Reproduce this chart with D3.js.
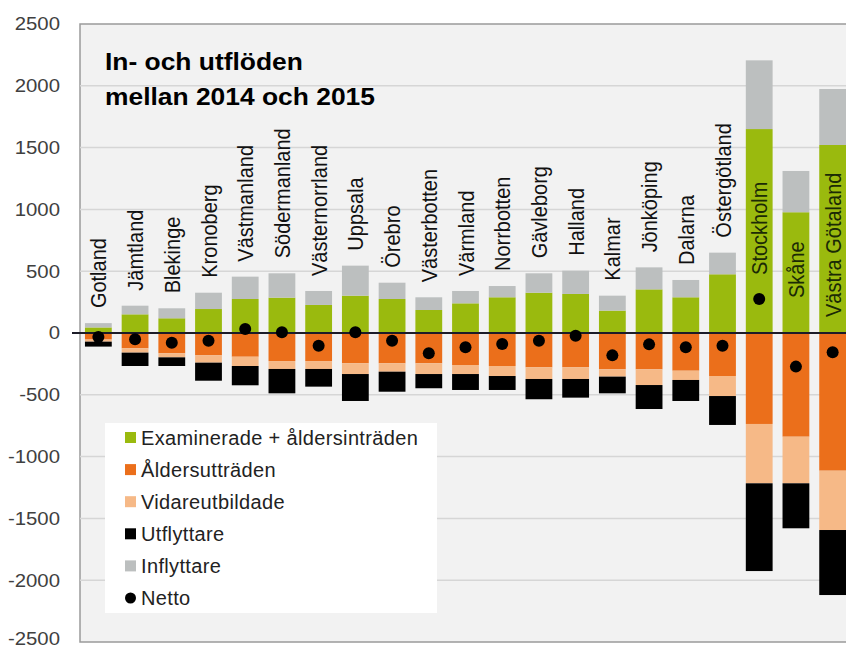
<!DOCTYPE html>
<html>
<head>
<meta charset="utf-8">
<script src="https://cdn.jsdelivr.net/npm/d3@7"></script>
<style>
  body { margin: 0; background: #fff; }
  svg { display: block; font-family: "Liberation Sans", Arial, sans-serif; }
</style>
</head>
<body>
<div id="chart"></div>
<script>
// län, sorted as in the report
var regions = ["Gotland", "Jämtland", "Blekinge", "Kronoberg", "Västmanland", "Södermanland",
  "Västernorrland", "Uppsala", "Örebro", "Västerbotten", "Värmland", "Norrbotten", "Gävleborg",
  "Halland", "Kalmar", "Jönköping", "Dalarna", "Östergötland", "Stockholm", "Skåne", "Västra Götaland"];

// inflows (positive)
var examinerade = [45, 151, 119, 194, 275, 286, 227, 302, 275, 186, 240, 289, 326, 316, 181, 353, 289, 475, 1650, 977, 1521];
var inflyttare  = [35, 70, 81, 132, 181, 197, 113, 243, 132, 103, 100, 91, 157, 188, 121, 178, 140, 175, 556, 334, 453];
// outflows (negative)
var aldersutt   = [-53, -124, -164, -181, -192, -227, -227, -245, -245, -245, -259, -267, -278, -278, -294, -294, -305, -348, -736, -839, -1114];
var vidareutb   = [-17, -35, -33, -59, -75, -64, -64, -87, -68, -87, -73, -81, -94, -94, -59, -127, -75, -162, -480, -377, -480];
var utflyttare  = [-40, -108, -70, -146, -156, -197, -143, -218, -162, -115, -129, -113, -164, -151, -135, -194, -170, -234, -710, -364, -526];
var netto       = [-33, -51, -78, -62, 32, 6, -103, 6, -62, -164, -116, -89, -62, -22, -181, -92, -116, -103, 275, -272, -156];

var yTicks = [2500, 2000, 1500, 1000, 500, 0, -500, -1000, -1500, -2000, -2500];

// the three big ones carry their name inside the bar (text starts at this value)
var labelInside = { "Stockholm": 470, "Skåne": 283, "Västra Götaland": 129 };

var posSeries = [
  { name: "Examinerade + åldersinträden", values: examinerade, color: "#9aba0e" },
  { name: "Inflyttare", values: inflyttare, color: "#bcbfbf" }
];
var negSeries = [
  { name: "Åldersutträden", values: aldersutt, color: "#eb6f1b" },
  { name: "Vidareutbildade", values: vidareutb, color: "#f6b987" },
  { name: "Utflyttare", values: utflyttare, color: "#000000" }
];
var legendItems = [
  { name: "Examinerade + åldersinträden", color: "#9aba0e" },
  { name: "Åldersutträden", color: "#eb6f1b" },
  { name: "Vidareutbildade", color: "#f6b987" },
  { name: "Utflyttare", color: "#000000" },
  { name: "Inflyttare", color: "#bcbfbf" },
  { name: "Netto", color: "#000000", dot: true }
];

var width = 846, height = 649;
var plot = { left: 80, top: 24, right: 851, bottom: 642 };

var svg = d3.select("#chart").append("svg")
  .attr("width", width).attr("height", height);

var x = d3.scaleBand().domain(regions)
  .range([plot.left, plot.right])
  .paddingInner(0.27).paddingOuter(0.135);
var y = d3.scaleLinear().domain([-2500, 2500]).range([plot.bottom, plot.top]);

// plot background + frame
svg.append("rect")
  .attr("x", plot.left).attr("y", plot.top)
  .attr("width", plot.right - plot.left).attr("height", plot.bottom - plot.top)
  .attr("fill", "#f2f2f2").attr("stroke", "#9a9a9a").attr("stroke-width", 1.5);

// gridlines
svg.append("g").selectAll("line")
  .data(yTicks.filter(function(d) { return d !== 2500 && d !== -2500 && d !== 0; }))
  .enter().append("line")
    .attr("x1", plot.left).attr("x2", plot.right)
    .attr("y1", function(d) { return y(d); }).attr("y2", function(d) { return y(d); })
    .attr("stroke", "#d6d6d6").attr("stroke-width", 1.5);

// y tick labels (bottom one nudged up a little so it stays inside the frame)
svg.append("g").selectAll("text")
  .data(yTicks)
  .enter().append("text")
    .attr("transform", function(d) {
      var ty = d === -2500 ? y(d) - 3 : y(d);
      return "translate(60," + ty + ") scale(1.1,1)";
    })
    .attr("text-anchor", "end")
    .attr("dy", "0.34em")
    .attr("font-size", 18.5)
    .attr("fill", "#404040")
    .text(function(d) { return d; });

// stacked bars
function stack(series) {
  var out = [];
  regions.forEach(function(r, i) {
    var acc = 0;
    series.forEach(function(s) {
      var v = s.values[i];
      out.push({ region: r, y0: acc, y1: acc + v, color: s.color });
      acc += v;
    });
  });
  return out;
}
var segs = stack(posSeries).concat(stack(negSeries));

svg.append("g").selectAll("rect")
  .data(segs)
  .enter().append("rect")
    .attr("x", function(d) { return x(d.region); })
    .attr("width", x.bandwidth())
    .attr("y", function(d) { return y(Math.max(d.y0, d.y1)); })
    .attr("height", function(d) { return Math.abs(y(d.y0) - y(d.y1)); })
    .attr("fill", function(d) { return d.color; });

// zero line
svg.append("line")
  .attr("x1", 72).attr("x2", plot.right)
  .attr("y1", y(0)).attr("y2", y(0))
  .attr("stroke", "#1c1c28").attr("stroke-width", 2);

// netto dots
svg.append("g").selectAll("circle")
  .data(regions)
  .enter().append("circle")
    .attr("cx", function(d) { return x(d) + x.bandwidth() / 2; })
    .attr("cy", function(d, i) { return y(netto[i]); })
    .attr("r", 6)
    .attr("fill", "#000");

// region names, rotated
svg.append("g").selectAll("text")
  .data(regions)
  .enter().append("text")
    .attr("transform", function(d, i) {
      var cx = x(d) + x.bandwidth() / 2;
      var base = labelInside[d] !== undefined
        ? y(labelInside[d])
        : y(examinerade[i] + inflyttare[i]) - 15;
      return "translate(" + cx + "," + base + ") rotate(-90) scale(1,1.12)";
    })
    .attr("dy", "0.36em")
    .attr("font-size", 20)
    .attr("fill", function(d) { return labelInside[d] !== undefined ? "#1b2a05" : "#111"; })
    .text(function(d) { return d; });

// title
var title = ["In- och utflöden", "mellan 2014 och 2015"];
svg.append("g").selectAll("text")
  .data(title)
  .enter().append("text")
    .attr("transform", function(d, i) { return "translate(105," + (70 + i * 35) + ") scale(1.1,1)"; })
    .attr("font-size", 24)
    .attr("font-weight", "bold")
    .attr("fill", "#000")
    .text(function(d) { return d; });

// legend
var lg = svg.append("g");
lg.append("rect")
  .attr("x", 105).attr("y", 423).attr("width", 332).attr("height", 190)
  .attr("fill", "#fff");

var row = lg.selectAll("g.item")
  .data(legendItems)
  .enter().append("g")
    .attr("class", "item")
    .attr("transform", function(d, i) { return "translate(125," + (437.5 + i * 32.1) + ")"; });

row.filter(function(d) { return !d.dot; }).append("rect")
  .attr("x", 0).attr("y", -5.5).attr("width", 11).attr("height", 11)
  .attr("fill", function(d) { return d.color; });
row.filter(function(d) { return d.dot; }).append("circle")
  .attr("cx", 5.5).attr("cy", 0).attr("r", 5.5)
  .attr("fill", function(d) { return d.color; });
row.append("text")
  .attr("x", 16)
  .attr("dy", "0.36em")
  .attr("font-size", 20)
  .attr("letter-spacing", 0.35)
  .attr("fill", "#222")
  .text(function(d) { return d.name; });
</script>
</body>
</html>
